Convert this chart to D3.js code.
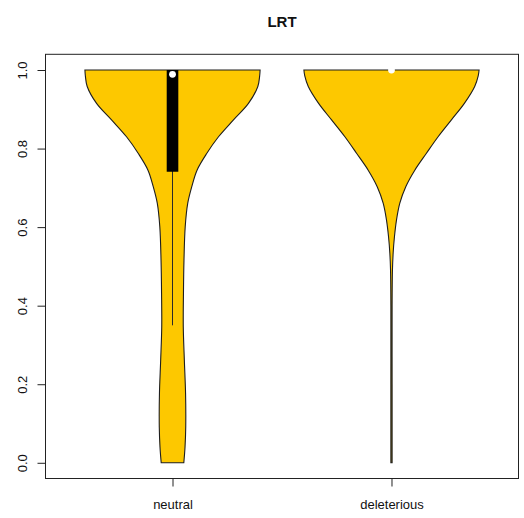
<!DOCTYPE html>
<html>
<head>
<meta charset="utf-8">
<script src="https://cdn.jsdelivr.net/npm/d3@7"></script>
<style>
  html, body { margin: 0; padding: 0; background: #fff; }
  svg { display: block; font-family: "Liberation Sans", Arial, Helvetica, sans-serif; }
</style>
</head>
<body>
<svg id="chart" width="524" height="518"></svg>
<script>
// Groups shown on the x axis
const categories = ["neutral", "deleterious"];

// Kernel density profiles: [LRT value, relative half-width (1 = widest)]
const neutralDensity = [
  [1.000, 1.000], [0.985, 0.995], [0.958, 0.974], [0.915, 0.867], [0.873, 0.696],
  [0.830, 0.525], [0.788, 0.392], [0.745, 0.280], [0.703, 0.220], [0.661, 0.174],
  [0.601, 0.145], [0.516, 0.131], [0.432, 0.125], [0.346, 0.123], [0.262, 0.135],
  [0.177, 0.149], [0.091, 0.151], [0.040, 0.143], [0.000, 0.129]
];
const deleteriousDensity = [
  [1.000, 1.000], [0.985, 0.990], [0.958, 0.950], [0.915, 0.832], [0.873, 0.684],
  [0.830, 0.532], [0.788, 0.399], [0.745, 0.266], [0.703, 0.163], [0.661, 0.095],
  [0.618, 0.057], [0.576, 0.034], [0.534, 0.019], [0.491, 0.011], [0.400, 0.007],
  [0.200, 0.007], [0.000, 0.007]
];
const densities = [neutralDensity, deleteriousDensity];

// Box-plot summaries per group
const medians     = [0.989, 1.000];
const q1Values    = [0.741, 1.000];
const q3Values    = [1.000, 1.000];
const whiskerLow  = [0.350, 1.000];
const whiskerHigh = [1.000, 1.000];

// Axis ticks and title
const yTicks = [0, 0.2, 0.4, 0.6, 0.8, 1.0];
const chartTitle = "LRT";

const svg = d3.select("#chart");
const plotLeft = 45.5, plotRight = 518.5, plotTop = 54.3, plotBottom = 478.5;

const x = d3.scaleLinear().domain([0.42, 2.58]).range([plotLeft, plotRight]);
const y = d3.scaleLinear().domain([-0.04, 1.04]).range([plotBottom, plotTop]);

const maxHalfWidth = 0.4;   // in x units
const boxHalfWidth = 0.0265;

// Violins
categories.forEach((cat, i) => {
  const cx = i + 1;
  const area = d3.area()
    .curve(d3.curveCatmullRom.alpha(0.5))
    .y(d => y(d[0]))
    .x0(d => x(cx - d[1] * maxHalfWidth))
    .x1(d => x(cx + d[1] * maxHalfWidth));
  svg.append("path")
    .datum(densities[i])
    .attr("d", area)
    .attr("fill", "#FDC800")
    .attr("stroke", "#1e1e1e")
    .attr("stroke-width", 1.1);

  // Whisker
  svg.append("line")
    .attr("x1", x(cx)).attr("x2", x(cx))
    .attr("y1", y(whiskerLow[i])).attr("y2", y(whiskerHigh[i]))
    .attr("stroke", "#2a2a2a").attr("stroke-width", 1);

  // Interquartile box
  svg.append("rect")
    .attr("x", x(cx - boxHalfWidth))
    .attr("width", x(cx + boxHalfWidth) - x(cx - boxHalfWidth))
    .attr("y", y(q3Values[i]))
    .attr("height", y(q1Values[i]) - y(q3Values[i]))
    .attr("fill", "#000");

  // Median
  svg.append("circle")
    .attr("cx", x(cx)).attr("cy", y(medians[i]))
    .attr("r", 3.4)
    .attr("fill", "#fff");
});

// Plot frame
svg.append("rect")
  .attr("x", plotLeft).attr("y", plotTop)
  .attr("width", plotRight - plotLeft).attr("height", plotBottom - plotTop)
  .attr("fill", "none").attr("stroke", "#222").attr("stroke-width", 1);

// Y axis
const yAxis = svg.append("g")
  .attr("transform", `translate(${plotLeft},0)`)
  .call(d3.axisLeft(y).tickValues(yTicks).tickFormat(d3.format(".1f")).tickSize(8));
yAxis.select(".domain").remove();
yAxis.selectAll(".tick line").attr("stroke", "#222");
yAxis.selectAll(".tick text")
  .attr("transform", "rotate(-90)")
  .attr("x", 0).attr("y", -18.5).attr("dy", null)
  .attr("text-anchor", "middle")
  .attr("font-size", 13)
  .attr("font-family", "Liberation Sans, Arial, sans-serif")
  .attr("fill", "#111");

// X axis
const xAxis = svg.append("g")
  .attr("transform", `translate(0,${plotBottom})`)
  .call(d3.axisBottom(x).tickValues([1, 2]).tickFormat(d => categories[d - 1]).tickSize(8));
xAxis.select(".domain").remove();
xAxis.selectAll(".tick line").attr("stroke", "#222");
xAxis.selectAll(".tick text")
  .attr("y", 30.5).attr("dy", null)
  .attr("font-size", 13)
  .attr("font-family", "Liberation Sans, Arial, sans-serif")
  .attr("fill", "#111");

// Title
svg.append("text")
  .attr("x", (plotLeft + plotRight) / 2).attr("y", 27)
  .attr("text-anchor", "middle")
  .attr("font-size", 15)
  .attr("font-weight", "bold")
  .attr("fill", "#111")
  .text(chartTitle);
</script>
</body>
</html>
